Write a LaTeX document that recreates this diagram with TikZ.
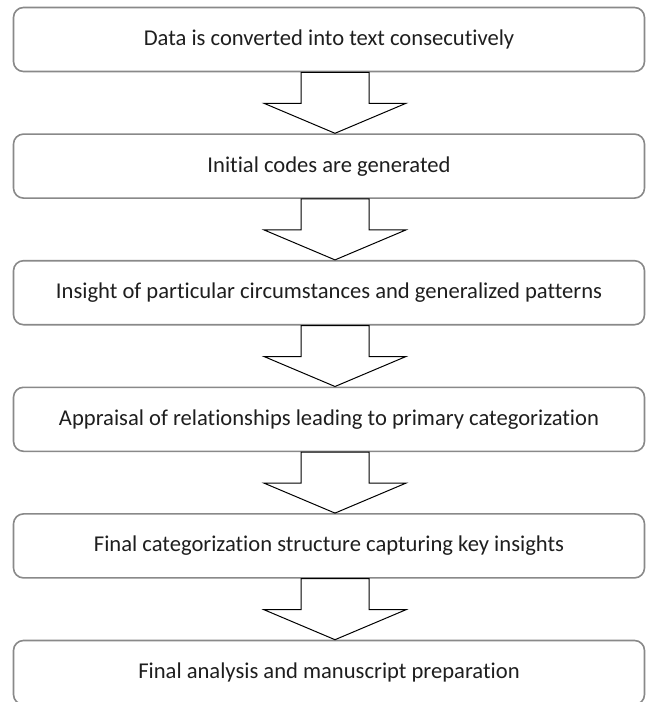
\documentclass[tikz,border=0pt]{standalone}
\usepackage{fontspec}
\setmainfont{Carlito}[Ligatures={NoCommon,NoRare,NoDiscretionary}]
\usetikzlibrary{positioning,calc}

\definecolor{boxline}{RGB}{137,137,137}
\definecolor{ink}{RGB}{30,30,30}

\begin{document}
\begin{tikzpicture}[x=1pt,y=1pt,
	stage/.style={draw=boxline, line width=1.6pt, rounded corners=10pt,
		minimum width=631pt, minimum height=64pt, text=ink,
		font=\fontsize{22.6}{27}\selectfont},
	blockarrow/.style={draw=black, line width=1pt, line join=miter},
	node distance=61pt]

		\clip (0,0) rectangle (648,-702);

		\node [stage] (s1) at (329,-39.5) {Data is converted into text consecutively};
		\node [stage, below=of s1] (s2) {Initial codes are generated};
		\node [stage, below=of s2] (s3) {Insight of particular circumstances and generalized patterns};
		\node [stage, below=of s3] (s4) {Appraisal of relationships leading to primary categorization};
		\node [stage, below=of s4] (s5) {Final categorization structure capturing key insights};
		\node [stage, below=of s5] (s6) {Final analysis and manuscript preparation};

		% block arrows between the stages
		\foreach \i/\j in {1/2,2/3,3/4,4/5,5/6}
			\draw [blockarrow] ($(s\i.south)+(-28,0)$) -- ++(0,-31) -- ++(-37,0)
				-- ($(s\j.north)+(6,0)$) -- ($(s\i.south)+(77,-31)$) -- ++(-37,0) -- ($(s\i.south)+(40,0)$) -- cycle;
\end{tikzpicture}
\end{document}
